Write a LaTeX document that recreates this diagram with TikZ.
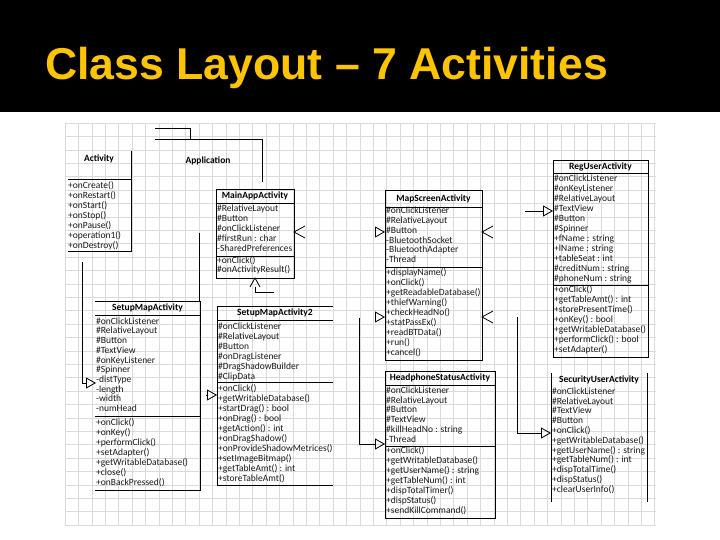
\documentclass[tikz,border=0pt]{standalone}
\usepackage{fontspec}
\setmainfont{Carlito}
\newfontfamily\titlefont{Liberation Sans}
\usetikzlibrary{arrows.meta}
\definecolor{titleyellow}{RGB}{255,196,0}
\definecolor{gridgray}{RGB}{218,218,218}
\tikzset{
  member/.style={anchor=west,inner sep=0pt,text=black!90,font=\fontsize{9.5}{10}\selectfont,text height=6.3pt,text depth=1.8pt},
  cname/.style={inner sep=0pt,font=\fontsize{9.5}{10}\selectfont\bfseries},
  umlline/.style={line width=0.8pt},
  inherit/.style={umlline,-{Triangle[open,length=10pt,width=11pt]}}
}
\begin{document}
\begin{tikzpicture}[x=1pt,y=-1pt]
\useasboundingbox (0,0) rectangle (720,540);
\fill[black] (0,0) rectangle (720,112);
\node[anchor=base west,inner sep=0pt,text=titleyellow,font=\titlefont\fontsize{44.6}{50}\selectfont\bfseries] (title) at (45,80) {Class Layout – 7 Activities};
% grid
\foreach \gx in {65,78.4,...,656} \draw[gridgray,line width=0.4pt] (\gx,123) -- (\gx,525);
\foreach \gy in {123,136.4,...,526} \draw[gridgray,line width=0.4pt] (65,\gy) -- (656,\gy);
% class names
\node[cname] (activity) at (99,159) {Activity};
\node[cname] (application) at (208,161) {Application};
\node[cname] (mainapp) at (255,196) {MainAppActivity};
\node[cname] (mapscreen) at (433.5,199) {MapScreenActivity};
\node[cname] (reguser) at (600.5,166.5) {RegUserActivity};
\node[cname] (setupmap) at (147.5,308) {SetupMapActivity};
\node[cname] (setupmap2) at (275,313) {SetupMapActivity2};
\node[cname] (headphone) at (440,378) {HeadphoneStatusActivity};
\node[cname] (security) at (599,380) {SecurityUserActivity};
% members
\foreach \nm/\mx/\my/\dy/\list in {%
  act/68/186/10/{+onCreate(),+onRestart(),+onStart(),+onStop(),+onPause(),+operation1(),+onDestroy()},
  mainA/217/209/10/{\#RelativeLayout,\#Button,\#onClickListener,\#firstRun : char,-SharedPreferences},
  mainM/217/261/9.5/{+onClick(),\#onActivityResult()},
  mapA/386/211.5/9.8/{\#onClickListener,\#RelativeLayout,\#Button,-BluetoothSocket,-BluetoothAdapter,-Thread},
  mapM/386/273/10/{+displayName(),+onClick(),+getReadableDatabase(),+thiefWarning(),+checkHeadNo(),+statPassEx(),+readBTData(),+run(),+cancel()},
  regA/554/179/10/{\#onClickListener,\#onKeyListener,\#RelativeLayout,\#TextView,\#Button,\#Spinner,+fName : string,+lName : string,+tableSeat : int,\#creditNum : string,\#phoneNum : string},
  regM/554/290/10/{+onClick(),+getTableAmt() : int,+storePresentTime(),+onKey() : bool,+getWritableDatabase(),+performClick() : bool,+setAdapter()},
  setA/96/322/9.7/{\#onClickListener,\#RelativeLayout,\#Button,\#TextView,\#onKeyListener,\#Spinner,-distType,-length,-width,-numHead},
  setM/96/423/10/{+onClick(),+onKey(),+performClick(),+setAdapter(),+getWritableDatabase(),+close(),+onBackPressed()},
  setTwoA/218/327/10/{\#onClickListener,\#RelativeLayout,\#Button,\#onDragListener,\#DragShadowBuilder,\#ClipData},
  setTwoM/218/389/10/{+onClick(),+getWritableDatabase(),+startDrag() : bool,+onDrag() : bool,+getAction() : int,+onDragShadow(),+onProvideShadowMetrices(),+setImageBitmap(),+getTableAmt() : int,+storeTableAmt()},
  headA/386/391/9.8/{\#onClickListener,\#RelativeLayout,\#Button,\#TextView,\#killHeadNo : string,-Thread},
  headM/386/451/10/{+onClick(),+getWritableDatabase(),+getUserName() : string,+getTableNum() : int,+dispTotalTimer(),+dispStatus(),+sendKillCommand()},
  sec/552/392/9.8/{\#onClickListener,\#RelativeLayout,\#TextView,\#Button,+onClick(),+getWritableDatabase(),+getUserName() : string,+getTableNum() : int,+dispTotalTime(),+dispStatus(),+clearUserInfo()}}{
  \foreach \m [count=\i from 0] in \list
    \node[member] (\nm-\i) at (\mx,{\my+\dy*\i}) {\m};
}
% boxes
\draw[umlline] (68,179) -- (131,179) (131,151) -- (131,251) -- (68,251);
\draw[umlline] (155,128) -- (190,128) -- (190,139) (155,139) -- (262,139) -- (262,182);
\draw[umlline] (216,189) rectangle (294,278) (216,203) -- (294,203) (216,256) -- (294,256);
\draw[umlline] (385,190) rectangle (482,360) (385,207) -- (482,207) (385,267) -- (482,267);
\draw[umlline] (553,160) rectangle (648,357) (553,173) -- (648,173) (553,285) -- (648,285);
\draw[umlline] (95,301) -- (200,301) -- (200,490) -- (95,490) (95,315) -- (200,315) (95,416) -- (200,416);
\draw[umlline] (333,306) -- (217,306) -- (217,485) -- (333,485) (217,320) -- (333,320) (217,382) -- (333,382);
\draw[umlline] (385,371) rectangle (495,518) (385,385) -- (495,385) (385,446) -- (495,446);
\draw[umlline] (551,373) -- (551,502) (647,373) -- (647,502);
% connectors
\coordinate (main-in) at (294,232);
\coordinate (main-out) at (255,278);
\coordinate (setTwo-link) at (274,292);
\coordinate (app-down) at (199,233);
\coordinate (set-top) at (199,301);
\coordinate (set-feed) at (82,262);
\coordinate (set-in) at (96,383);
\coordinate (setTwo-in) at (217,395);
\coordinate (map-inA) at (385,232);
\coordinate (map-inB) at (385,317);
\coordinate (map-outA) at (482,232);
\coordinate (map-outB) at (482,317);
\coordinate (reg-feed) at (525,211);
\coordinate (reg-in) at (553,211);
\coordinate (head-feed) at (359,318);
\coordinate (head-in) at (385,444);
\coordinate (sec-feed) at (517,317);
\coordinate (sec-in) at (551,433);
\draw[umlline] (main-in) ++(11,-6) -- (main-in) -- ++(11,6);
\draw[umlline] (main-out) ++(-5,9) -- (main-out) -- ++(5,9);
\draw[umlline] (main-out) ++(0,9) |- (setTwo-link);
\draw[umlline] (app-down) -- (set-top);
\draw[inherit] (set-feed) |- (set-in);
\draw[inherit] ([xshift=-11pt]setTwo-in) -- (setTwo-in);
\draw[inherit] ([xshift=-10pt]map-inA) -- (map-inA);
\draw[inherit] ([xshift=-10pt]map-inB) -- (map-inB);
\draw[umlline] (map-outA) ++(11,-6) -- (map-outA) -- ++(11,6);
\draw[umlline] (map-outB) ++(11,-6) -- (map-outB) -- ++(11,6);
\draw[inherit] (reg-feed) -- (reg-in);
\draw[inherit] (head-feed) |- (head-in);
\draw[inherit] (sec-feed) |- (sec-in);
\end{tikzpicture}
\end{document}
